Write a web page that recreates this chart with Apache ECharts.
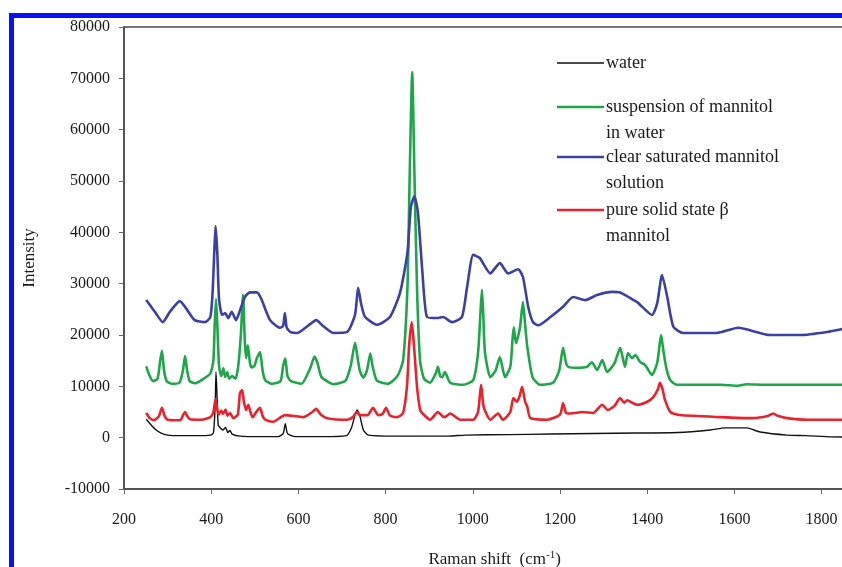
<!DOCTYPE html>
<html>
<head>
<meta charset="utf-8">
<script src="https://cdn.jsdelivr.net/npm/echarts@6/dist/echarts.min.js"></script>
<style>
  html, body { margin: 0; padding: 0; background: #fff; }
  #chart { width: 842px; height: 567px; }
</style>
</head>
<body>
<div id="chart"></div>
<script>
// Raman spectra: [shift in cm-1, intensity]
const water = [
  [251,3600],[261,2600],[271,1700],[285,900],[300,500],[329,400],[368,400],[398,500],
  [405,900],[409,6000],[411,12800],[413,9000],[416,2500],[421,1900],[427,1500],[433,2000],
  [438,1000],[443,1400],[448,700],[466,300],[515,200],[554,200],[565,800],[570,2700],
  [575,800],[593,200],[651,200],[710,400],[722,2000],[730,4500],[735,5400],[741,4200],
  [749,1500],[761,500],[837,300],[886,300],[944,300],[983,500],[1081,600],[1179,700],
  [1276,800],[1374,900],[1471,1000],[1545,1500],[1579,1900],[1628,1900],[1659,1100],
  [1721,500],[1764,400],[1823,150],[1890,100]
];

const suspension = [
  [251,13900],[259,12000],[267,11000],[277,11500],[283,15000],[287,16900],[292,13000],
  [298,11000],[310,10500],[327,10700],[335,13000],[340,15900],[345,13000],[351,11000],
  [363,10600],[383,11500],[398,12500],[405,15000],[408,22000],[411,27000],[414,22000],
  [418,14000],[423,12000],[428,13500],[432,11800],[437,12800],[441,11500],[448,12000],
  [456,11500],[462,14000],[468,20000],[473,27800],[477,19000],[480,15500],[484,18000],
  [489,14500],[493,13700],[499,14000],[505,15500],[512,16700],[518,13000],[524,11200],
  [539,10500],[559,11000],[565,14000],[570,15400],[575,12000],[583,11000],[607,10500],
  [627,13500],[637,15800],[644,14500],[653,11800],[681,10400],[708,11100],[720,14000],
  [730,18500],[735,16000],[741,13000],[749,11700],[757,13000],[765,16400],[770,14000],
  [780,11100],[805,10500],[827,12000],[840,15000],[850,29000],[855,50000],[861,71200],
  [866,52000],[872,29300],[879,15000],[888,11500],[902,10700],[915,12500],[920,13800],
  [925,12000],[930,11800],[936,12800],[948,10700],[978,10300],[1001,11200],[1012,16500],
  [1018,25000],[1021,28800],[1024,24000],[1028,16500],[1040,11800],[1052,13000],
  [1062,15700],[1074,11800],[1086,13800],[1091,19000],[1094,21500],[1099,18400],
  [1108,21300],[1115,26400],[1120,22000],[1125,17700],[1137,11800],[1154,10300],
  [1184,10700],[1198,13000],[1207,17500],[1214,14500],[1219,13800],[1239,13600],
  [1262,13800],[1273,14700],[1285,13200],[1297,15100],[1308,12800],[1325,14500],
  [1338,17500],[1349,13800],[1356,16500],[1365,15500],[1373,16100],[1384,14700],
  [1395,14200],[1411,12200],[1423,14600],[1429,18500],[1432,20000],[1437,17000],
  [1444,13500],[1453,11200],[1468,10300],[1569,10300],[1608,10100],[1628,10400],
  [1667,10300],[1764,10300],[1890,10300]
];

const solution = [
  [251,26800],[271,24500],[289,22500],[305,24500],[328,26600],[344,25000],[362,22900],
  [386,22500],[398,23500],[403,28000],[407,36000],[410,41200],[414,36000],[418,27000],
  [425,23900],[432,24300],[439,23300],[447,24500],[457,22900],[466,24800],[478,27500],
  [489,28300],[505,28300],[515,27000],[535,22900],[558,21400],[565,21800],[569,24300],
  [573,21500],[581,20600],[597,20400],[622,21800],[641,22900],[656,21800],[680,20400],
  [712,20600],[730,24000],[737,29200],[744,26000],[753,23500],[780,22000],[810,23500],
  [833,28200],[850,36000],[858,45000],[866,47000],[874,44000],[884,32700],[895,23500],
  [918,23300],[932,23500],[952,22500],[975,23500],[987,29400],[1001,35600],[1016,35000],
  [1040,32000],[1062,34000],[1081,32000],[1104,32800],[1115,31300],[1127,25500],
  [1138,22500],[1150,21900],[1178,23500],[1207,25500],[1230,27400],[1258,26800],
  [1285,27800],[1319,28400],[1338,28300],[1361,27200],[1377,26400],[1411,23900],
  [1423,26200],[1434,31700],[1446,27400],[1460,21600],[1482,20400],[1560,20400],
  [1609,21400],[1682,20000],[1751,20000],[1813,20600],[1862,21400],[1890,21800]
];

const solid = [
  [251,4800],[259,3800],[269,3400],[280,4200],[287,5800],[293,4300],[300,3500],
  [329,3400],[336,4500],[340,5000],[345,4200],[351,3600],[378,3500],[398,4000],
  [405,5000],[410,7500],[413,6000],[417,4500],[423,5300],[427,4600],[433,5500],
  [437,4300],[443,4800],[451,3800],[461,4500],[466,8700],[471,9300],[475,7000],
  [480,5400],[485,6400],[490,5000],[495,4000],[505,5200],[512,5800],[518,4200],
  [524,3500],[542,3100],[569,4400],[593,4200],[612,4000],[632,5000],[641,5600],
  [651,4500],[666,3800],[712,3500],[725,4000],[734,5000],[741,4400],[759,4400],
  [771,5800],[783,4400],[793,4600],[801,5800],[810,4300],[827,4000],[840,4800],
  [849,10000],[854,18000],[860,22500],[865,18000],[872,10000],[879,5500],[884,4800],
  [902,3500],[920,5000],[930,4200],[936,4000],[948,4700],[971,3500],[1001,3500],
  [1012,5000],[1019,10300],[1025,6000],[1040,3500],[1058,4700],[1069,3500],
  [1086,5000],[1093,7700],[1101,7000],[1107,8000],[1113,9900],[1120,7000],[1125,6000],
  [1132,3800],[1171,3500],[1200,4500],[1207,6700],[1214,4800],[1223,4700],[1253,5000],
  [1276,4800],[1297,6400],[1310,5400],[1325,6200],[1338,7700],[1347,6800],[1354,7300],
  [1361,7000],[1377,6400],[1400,7000],[1414,7900],[1425,9500],[1429,10700],[1435,9500],
  [1441,7300],[1453,5000],[1475,4400],[1567,4000],[1643,3800],[1676,4200],[1689,4700],
  [1701,4200],[1721,3800],[1767,3500],[1890,3500]
];

const seriesNames = ['water', 'suspension of mannitol in water', 'clear saturated mannitol solution', 'pure solid state \u03b2 mannitol'];
const seriesColors = ['#111111', '#1fa64a', '#3b3fa6', '#e8232d'];
const seriesData = [water, suspension, solution, solid];

const xTicks = { min: 200, max: 1900, interval: 200, lastLabel: 1800 };
const yTicks = { min: -10000, max: 80000, interval: 10000 };

const FONT = '"Liberation Serif", "DejaVu Serif", serif';
const chart = echarts.init(document.getElementById('chart'), null, { renderer: 'canvas' });

// Plot area geometry (the right part runs past the page edge)
const G = { left: 124, top: 27, height: 462, width: (xTicks.max - xTicks.min) * 0.436 };

// Legend block: sample line followed by a wrapped label
const legendRows = [
  { y: 63, lines: ['water'] },
  { y: 107, lines: ['suspension of mannitol', 'in water'] },
  { y: 157, lines: ['clear saturated mannitol', 'solution'] },
  { y: 210, lines: ['pure solid state \u03b2', 'mannitol'] }
];
const legendGraphics = [];
legendRows.forEach((row, i) => {
  legendGraphics.push({
    type: 'line', shape: { x1: 557, y1: row.y, x2: 604, y2: row.y },
    style: { stroke: seriesColors[i], lineWidth: i === 0 ? 1.5 : 2.5 }, z: 100
  });
  row.lines.forEach((t, k) => {
    legendGraphics.push({
      type: 'text', x: 606, y: row.y + k * 26,
      style: { text: t, font: '18px ' + FONT, fill: '#1a1a1a', textVerticalAlign: 'middle' }, z: 100
    });
  });
});

const option = {
  animation: false,
  backgroundColor: '#ffffff',
  grid: {
    left: G.left, top: G.top, width: G.width, height: G.height,
    outerBoundsMode: 'none', containLabel: false,
    show: true, borderColor: '#4a4a4a', borderWidth: 1.5, backgroundColor: 'transparent'
  },
  xAxis: {
    type: 'value', min: xTicks.min, max: xTicks.max, interval: xTicks.interval,
    name: '{a|Raman shift  (cm}{s|-1}{a|)}',
    nameLocation: 'middle', nameGap: 61,
    nameTextStyle: {
      rich: {
        a: { fontFamily: FONT, fontSize: 17, color: '#1a1a1a', lineHeight: 20 },
        s: { fontFamily: FONT, fontSize: 11, color: '#1a1a1a', verticalAlign: 'top', lineHeight: 20 }
      }
    },
    axisLine: { show: true, onZero: false, lineStyle: { color: '#4a4a4a', width: 1.5 } },
    axisTick: { show: true, inside: false, length: 5, lineStyle: { color: '#666' } },
    axisLabel: {
      margin: 23, fontFamily: FONT, fontSize: 16, color: '#1a1a1a',
      formatter: v => (v <= xTicks.lastLabel ? String(v) : '')
    },
    splitLine: { show: false }
  },
  yAxis: {
    type: 'value', min: yTicks.min, max: yTicks.max, interval: yTicks.interval,
    name: 'Intensity', nameLocation: 'middle', nameGap: 86, nameRotate: 90,
    nameTextStyle: { fontFamily: FONT, fontSize: 17, color: '#1a1a1a' },
    axisLine: { show: true, onZero: false, lineStyle: { color: '#4a4a4a', width: 1.5 } },
    axisTick: { show: true, inside: false, length: 5, lineStyle: { color: '#666' } },
    axisLabel: { margin: 14, fontFamily: FONT, fontSize: 16, color: '#1a1a1a', formatter: v => String(v) },
    splitLine: { show: false }
  },
  series: seriesData.map((d, i) => ({
    name: seriesNames[i],
    type: 'line',
    data: d,
    showSymbol: false,
    smooth: 0.2,
    clip: true,
    z: 2 + i,
    lineStyle: { color: seriesColors[i], width: i === 0 ? 1.4 : 2.6 }
  })),
  graphic: [
    // page frame
    { type: 'rect', shape: { x: 9, y: 13, width: 840, height: 5 }, style: { fill: '#0a12f5' }, z: 100 },
    { type: 'rect', shape: { x: 9, y: 13, width: 5, height: 560 }, style: { fill: '#0a12f5' }, z: 100 }
  ].concat(legendGraphics)
};

chart.setOption(option);
</script>
</body>
</html>
